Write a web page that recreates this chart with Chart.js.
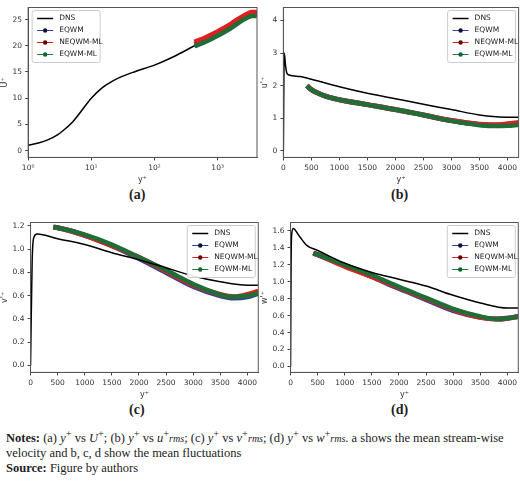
<!DOCTYPE html>
<html><head><meta charset="utf-8">
<script src="https://cdn.jsdelivr.net/npm/chart.js@4"></script>
<style>
body{margin:0;background:#fff;width:520px;height:482px;position:relative;overflow:hidden}
canvas{position:absolute}
.cap{position:absolute;font:bold 14px "Liberation Serif";color:#222}
#notes{position:absolute;left:6px;top:426px;width:512px;font:12.5px "Liberation Serif";line-height:15px;color:#222}
</style></head><body>
<canvas id="ca" style="left:0;top:0"></canvas>
<canvas id="cb" style="left:260px;top:0"></canvas>
<canvas id="cc" style="left:0;top:215px"></canvas>
<canvas id="cd" style="left:260px;top:215px"></canvas>
<div class="cap" style="left:129px;top:187px">(a)</div>
<div class="cap" style="left:391px;top:187px">(b)</div>
<div class="cap" style="left:129px;top:402px">(c)</div>
<div class="cap" style="left:391px;top:402px">(d)</div>
<div id="notes"><b>Notes:</b> (a) <i>y</i><sup>+</sup> vs <i>U</i><sup>+</sup>; (b) <i>y</i><sup>+</sup> vs <i>u</i><sup>+</sup><i style="font-size:10px">rms</i>; (c) <i>y</i><sup>+</sup> vs <i>v</i><sup>+</sup><i style="font-size:10px">rms</i>; (d) <i>y</i><sup>+</sup> vs <i>w</i><sup>+</sup><i style="font-size:10px">rms</i>. a shows the mean stream-wise velocity and b, c, d show the mean fluctuations<br><b>Source:</b> Figure by authors</div>
<script>
const names=['DNS','EQWM','NEQWM-ML','EQWM-ML'];
// panel a
const aDnsX=[1,1.5,2,3,4,5,7,10,15,20,30,50,100,200,430];
const aDnsY=[1,1.5,2,3.1,4.3,5.4,7.6,10,12,13,14.1,15.1,16.3,17.9,20];
const aModX=[430,600,800,1000,1500,2000,2500,3000,3500,4000,4200];
const aEq=[20.3,21.0,21.7,22.3,23.5,24.5,25.2,25.7,26.0,26.0,25.9];
const aNeq=[20.7,21.4,22.1,22.7,23.9,24.9,25.6,26.1,26.4,26.4,26.3];
const aEqml=[19.9,20.6,21.3,21.9,23.1,24.1,24.9,25.4,25.7,25.7,25.6];
// panel b
const bDnsX=[0,15,40,60,100,300,500,1000,1500,2000,2500,3000,3500,3800,4200];
const bDnsY=[0,3.0,2.6,2.4,2.33,2.28,2.2,1.97,1.77,1.6,1.43,1.27,1.1,1.05,1.03];
const bModX=[420,500,750,1000,1500,2000,2500,3000,3500,3800,4000,4200];
const bEq=[2.0,1.88,1.68,1.57,1.42,1.27,1.1,0.93,0.81,0.79,0.81,0.85];
const bNeq=[2.0,1.88,1.68,1.57,1.42,1.27,1.1,0.93,0.82,0.8,0.83,0.87];
const bEqml=[2.0,1.88,1.68,1.57,1.42,1.27,1.1,0.92,0.79,0.76,0.77,0.8];
// panel c
const cDnsX=[0,30,60,120,500,1000,1500,2000,2500,3000,3500,4000,4200];
const cDnsY=[0,0.9,1.1,1.13,1.09,1.04,0.97,0.91,0.84,0.77,0.72,0.69,0.69];
const cModX=[420,500,1000,1500,2000,2500,3000,3500,3750,4000,4200];
const cEq=[1.19,1.185,1.12,1.03,0.92,0.8,0.68,0.6,0.58,0.59,0.62];
const cNeq=[1.19,1.185,1.12,1.03,0.93,0.81,0.69,0.61,0.59,0.61,0.64];
const cEqml=[1.19,1.185,1.125,1.04,0.93,0.82,0.7,0.61,0.59,0.6,0.62];
// panel d
const dDnsX=[0,10,20,50,150,300,500,1000,1500,2000,2500,3000,3500,4000,4200];
const dDnsY=[0,1.2,1.55,1.63,1.55,1.43,1.37,1.22,1.11,1.03,0.95,0.84,0.75,0.69,0.69];
const dModX=[420,500,1000,1500,2000,2500,3000,3500,3800,4000,4200];
const dEq=[1.34,1.32,1.19,1.06,0.92,0.79,0.66,0.58,0.56,0.57,0.59];
const dNeq=[1.34,1.32,1.18,1.06,0.93,0.8,0.67,0.58,0.56,0.57,0.59];
const dEqml=[1.34,1.32,1.2,1.08,0.94,0.81,0.68,0.59,0.56,0.57,0.59];

const cols=['#000','#2b3f9e','#e02020','#1f7a3a'];
const pts=(xs,ys)=>xs.map((x,i)=>({x,y:ys[i]}));
function legendPlugin(pos){return{id:'lg',afterDraw(ch){
  const c=ch.ctx,a=ch.chartArea;const w=68,h=52;
  c.save();c.strokeStyle='#555';c.lineWidth=1;c.strokeRect(a.left,a.top,a.right-a.left,a.bottom-a.top);
  const x=pos==='left'?a.left+4:a.right-w-3,y=a.top+3;
  c.fillStyle='rgba(255,255,255,0.9)';c.strokeStyle='#ccc';
  c.beginPath();c.roundRect(x,y,w,h,2);c.fill();c.stroke();
  c.font='7.5px "DejaVu Sans"';c.textBaseline='middle';
  names.forEach((n,i)=>{const yy=y+8+i*12;c.strokeStyle=cols[i];c.lineWidth=i?1:1.5;
    c.beginPath();c.moveTo(x+5,yy);c.lineTo(x+21,yy);c.stroke();
    if(i){c.fillStyle=i===2?'#600':i===3?'#063':'#113';c.beginPath();c.arc(x+13,yy,2.2,0,7);c.fill();}
    c.fillStyle='#222';c.fillText(n,x+27,yy);});
  c.restore();}}}
const tick={font:{size:7.5,family:'DejaVu Sans'},color:'#333'};
function make(id,w,h,datasets,xs,ys,ylab,lpos){
  const cv=document.getElementById(id);cv.width=w;cv.height=h;cv.style.width=w+'px';cv.style.height=h+'px';
  const g={display:true,drawOnChartArea:false,tickLength:3,color:'#444'};
  new Chart(cv,{type:'line',data:{datasets},plugins:[legendPlugin(lpos)],options:{
    responsive:false,animation:false,
    layout:{padding:{top:3,right:1,left:0,bottom:0}},
    plugins:{legend:{display:false},tooltip:{enabled:false}},
    elements:{point:{radius:0},line:{tension:0.4,cubicInterpolationMode:'monotone'}},
    scales:{x:Object.assign({grid:g,border:{color:'#555'},
      title:{display:true,text:'y⁺',font:{size:8,family:'DejaVu Sans'},padding:0,color:'#333'}},xs),
      y:Object.assign({grid:g,border:{color:'#555'},
      title:{display:true,text:ylab,font:{size:8,family:'DejaVu Sans'},padding:0,color:'#333'}},ys)}}});
}
function ds(dx,dy,mx,e,n,gr){return[
 {data:pts(dx,dy),borderColor:'#000',borderWidth:1.5,order:0},
 {data:pts(mx,e),borderColor:'#2b3f9e',borderWidth:5,order:3},
 {data:pts(mx,n),borderColor:'#e02020',borderWidth:5,order:2},
 {data:pts(mx,gr),borderColor:'#1f6e38',borderWidth:4.5,order:1}];}
const sup={0:'⁰',1:'¹',2:'²',3:'³'};
const linX={type:'linear',min:0,max:4200,afterBuildTicks:s=>{s.ticks=[0,500,1000,1500,2000,2500,3000,3500,4000].map(v=>({value:v}))},ticks:Object.assign({callback:v=>String(v),maxRotation:0},tick)};
const f1=Object.assign({callback:v=>v.toFixed(1)},tick);
make('ca',258,185,ds(aDnsX,aDnsY,aModX,aEq,aNeq,aEqml),
 {type:'logarithmic',min:1,max:4200,afterBuildTicks:s=>{s.ticks=[1,10,100,1000].map(v=>({value:v}))},ticks:Object.assign({callback:v=>'10'+sup[Math.round(Math.log10(v))],maxRotation:0},tick)},
 {min:-1.3,max:27.3,afterBuildTicks:s=>{s.ticks=[0,5,10,15,20,25].map(v=>({value:v}))},ticks:Object.assign({callback:v=>String(v)},tick)},'Ū⁺','left');
make('cb',260,185,ds(bDnsX,bDnsY,bModX,bEq,bNeq,bEqml),linX,
 {min:-0.2,max:4.4,afterBuildTicks:s=>{s.ticks=[0,1,2,3,4].map(v=>({value:v}))},ticks:Object.assign({callback:v=>String(v)},tick)},"u'⁺",'right');
make('cc',260,185,ds(cDnsX,cDnsY,cModX,cEq,cNeq,cEqml),linX,
 {min:-0.06,max:1.23,afterBuildTicks:s=>{s.ticks=[0,0.2,0.4,0.6,0.8,1.0,1.2].map(v=>({value:v}))},ticks:f1},"v'⁺",'right');
make('cd',260,185,ds(dDnsX,dDnsY,dModX,dEq,dNeq,dEqml),linX,
 {min:-0.07,max:1.7,afterBuildTicks:s=>{s.ticks=[0,0.2,0.4,0.6,0.8,1.0,1.2,1.4,1.6].map(v=>({value:v}))},ticks:f1},"w'⁺",'right');
</script></body></html>
